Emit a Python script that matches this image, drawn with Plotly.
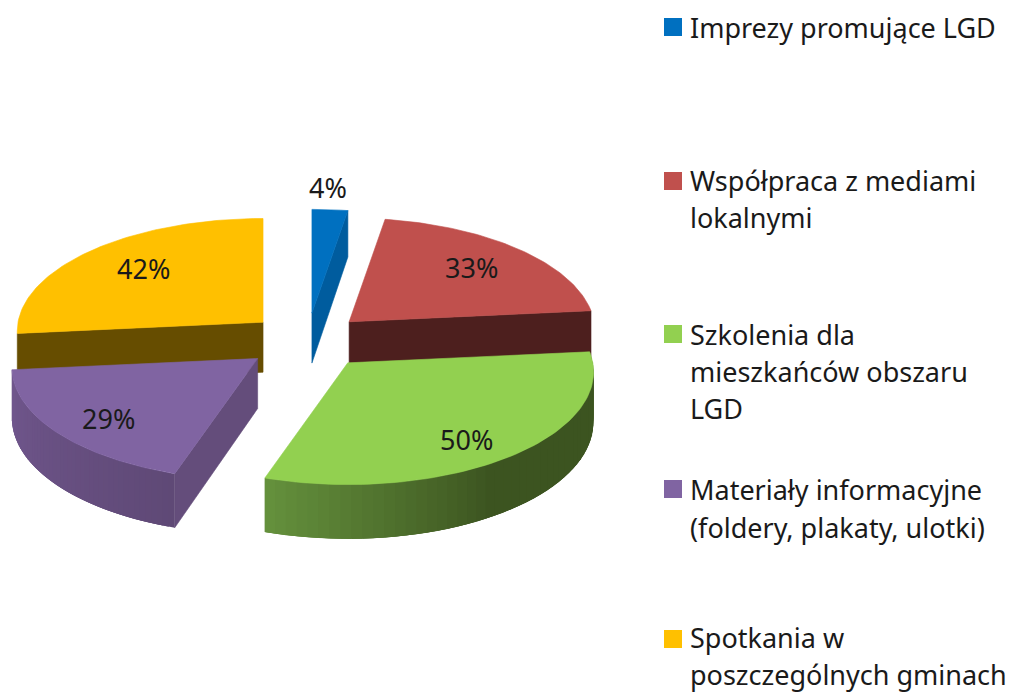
import math
import plotly.graph_objects as go

# ---- data ----
categories = ["Imprezy promujące LGD", "Współpraca z mediami lokalnymi",
              "Szkolenia dla mieszkańców obszaru LGD",
              "Materiały informacyjne (foldery, plakaty, ulotki)",
              "Spotkania w poszczególnych gminach"]
values = [4, 33, 50, 29, 42]
legend_lines = [["Imprezy promujące LGD"],
                ["Współpraca z mediami", "lokalnymi"],
                ["Szkolenia dla", "mieszkańców obszaru", "LGD"],
                ["Materiały informacyjne", "(foldery, plakaty, ulotki)"],
                ["Spotkania w", "poszczególnych gminach"]]

# ---- styles ----
top_colors = ["#0070c0", "#c0504d", "#92d050", "#8064a2", "#ffc000"]
cut_colors = ["#005c9e", "#4d1f1e", "#3d5522", "#644d7b", "#664d00"]
rim_left = [None, None, "#64903c", "#71578e", None]
rim_mid = [None, None, "#3c5420", "#5f4976", None]
cut_side = ["end", "end", None, "start", "start"]
draw_order = [4, 0, 1, 3, 2]
nudge_x = [1, -2, 3, 0, 3]
label_xy = [(328, 187), (471, 267), (466, 439), (108, 418), (143, 268)]
legend_marker_y = [27, 181, 334, 489, 639]
legend_line_y = [[27], [180, 217], [334, 371, 408], [489, 527], [637, 674]]
FONT = "Noto Sans"
TEXT = "#1a1a1a"

CX, CY, EXPLODE, RX, RY, PERSP, DEPTH = 306, 341, 62, 245, 112, 0.08, 50
EXPLODE_Y = 28


def hex_rgb(c):
    return [int(c[i:i + 2], 16) for i in (1, 3, 5)]


def mix(a, b, f):
    pa, pb = hex_rgb(a), hex_rgb(b)
    return "rgb(%d,%d,%d)" % tuple(round(x + (y - x) * f) for x, y in zip(pa, pb))


def rim_point(ax, ay, deg, depth=0.0):
    t = math.radians(deg)
    w = 1 + PERSP * math.cos(t)
    return ax + RX * math.sin(t) / w, ay - RY * math.cos(t) / w + depth / w


fig = go.Figure()


def poly(pts, color, lw=0.6):
    xs = [p[0] for p in pts] + [pts[0][0]]
    ys = [p[1] for p in pts] + [pts[0][1]]
    fig.add_trace(go.Scatter(x=xs, y=ys, mode="lines", fill="toself", fillcolor=color,
                             line=dict(color=color, width=lw), hoverinfo="skip", showlegend=False))


total = sum(values)
spans = []
a = 0.0
for v in values:
    b = a + 360.0 * v / total
    spans.append((a, b))
    a = b

for i in draw_order:
    t0, t1 = spans[i]
    mid = math.radians((t0 + t1) / 2)
    ax = CX + EXPLODE * math.sin(mid) + nudge_x[i]
    ay = CY - EXPLODE_Y * math.cos(mid)
    # cut face
    if cut_side[i]:
        deg = t1 if cut_side[i] == "end" else t0
        poly([(ax, ay), rim_point(ax, ay, deg), rim_point(ax, ay, deg, DEPTH), (ax, ay + DEPTH)], cut_colors[i])
    # outer rim, shaded segment by segment; each segment overlaps the next to hide seams
    lo, hi = max(t0, 82), min(t1, 278)
    if hi > lo and rim_left[i]:
        n = 48
        for k in range(n):
            d0 = lo + (hi - lo) * k / n
            d1 = min(hi, lo + (hi - lo) * (k + 3) / n)
            g = 1 - k / (n - 1)
            col = mix(rim_left[i], rim_mid[i], min(1.0, g / 0.45) if i == 2 else g)
            poly([rim_point(ax, ay, d0), rim_point(ax, ay, d1),
                  rim_point(ax, ay, d1, DEPTH), rim_point(ax, ay, d0, DEPTH)], col, lw=0)
    # top face
    n = 80
    pts = [(ax, ay)] + [rim_point(ax, ay, t0 + (t1 - t0) * k / n) for k in range(n + 1)]
    poly(pts, top_colors[i])

# legend markers
fig.add_trace(go.Scatter(x=[673] * len(values), y=legend_marker_y, mode="markers",
                         marker=dict(symbol="square", size=18, color=top_colors, line=dict(width=0)),
                         hoverinfo="skip", showlegend=False))

ann = []
for v, (x, y) in zip(values, label_xy):
    ann.append(dict(x=x, y=y, text=f"{v}%", showarrow=False, xanchor="center", yanchor="middle",
                    font=dict(family=FONT, size=27, color=TEXT)))
for lines, ys in zip(legend_lines, legend_line_y):
    for t, y in zip(lines, ys):
        ann.append(dict(x=688, y=y, text=t, showarrow=False, xanchor="left", yanchor="middle",
                        font=dict(family=FONT, size=27, color=TEXT)))

fig.update_layout(width=1010, height=693, margin=dict(l=0, r=0, t=0, b=0),
                  paper_bgcolor="white", plot_bgcolor="white", annotations=ann, showlegend=False,
                  xaxis=dict(range=[0, 1010], visible=False, fixedrange=True),
                  yaxis=dict(range=[693, 0], visible=False, fixedrange=True))
fig.write_html("out.html", post_script="document.body.style.margin='0';document.documentElement.style.overflow='hidden';",
               config=dict(displayModeBar=False))
